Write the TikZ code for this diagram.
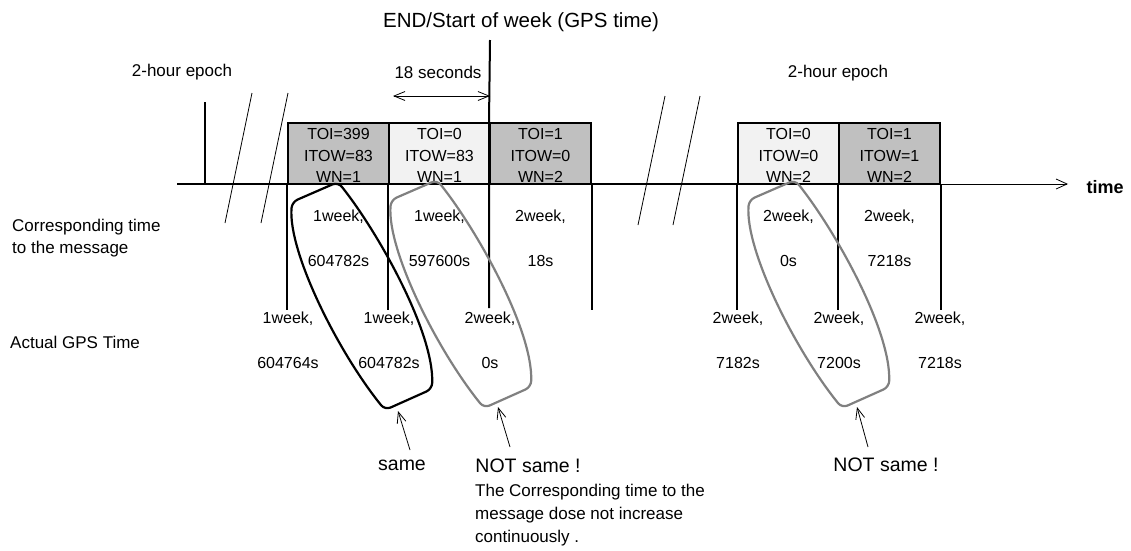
\documentclass[tikz,border=0pt]{standalone}
\usepackage{fontspec}
\setmainfont{Liberation Sans}
\usetikzlibrary{arrows.meta}
\definecolor{graybox}{HTML}{C0C0C0}
\definecolor{lightbox}{HTML}{F2F2F2}
\definecolor{loopgray}{HTML}{808080}
\tikzset{
  boxcell/.style={draw=black, line width=2pt, minimum width=101pt, minimum height=61pt, inner sep=0pt},
  boxtxt/.style={align=center, font=\fontsize{16}{21.5}\selectfont, inner sep=0pt},
  val/.style={font=\fontsize{16}{19}\selectfont, inner sep=0pt},
  lbl/.style={font=\fontsize{17}{22}\selectfont, inner sep=0pt},
  biglbl/.style={font=\fontsize{19.5}{23}\selectfont, inner sep=0pt},
  thickline/.style={line width=2pt},
  breakline/.style={line width=0.8pt},
  loopblk/.style={draw=black, line width=2.2pt, rounded corners=6pt, line join=round},
  loopgry/.style={draw=loopgray, line width=2.2pt, rounded corners=6pt, line join=round},
  ptr/.style={-{Straight Barb[length=11pt,width=9pt]}, line width=0.8pt},
  dblptr/.style={{Straight Barb[length=11pt,width=9pt]}-{Straight Barb[length=11pt,width=9pt]}, line width=0.8pt},
}
\begin{document}
\begin{tikzpicture}[x=1pt,y=-1pt]
\useasboundingbox (0,0) rectangle (1131,550);

% title and week line
\node[font=\fontsize{20.5}{24}\selectfont, inner sep=0pt] (title) at (521,22) {END/Start of week (GPS time)};
\coordinate (wktop) at (490,40);

% epoch labels
\node[lbl] (ep1) at (182,72) {2-hour epoch};
\node[lbl] (ep2) at (838,73) {2-hour epoch};
\node[lbl] (sec) at (438,72) {18 seconds};
\coordinate (secL) at (393,96);
\coordinate (secR) at (490,96);
\draw[dblptr] (secL) -- (secR);

% boxes
\node[boxcell, fill=graybox]  (b1) at (338.5,153.5) {};
\node[boxcell, fill=lightbox] (b2) at (439.5,153.5) {};
\node[boxcell, fill=graybox]  (b3) at (540.5,153.5) {};
\node[boxcell, fill=lightbox] (b4) at (788.5,153.5) {};
\node[boxcell, fill=graybox]  (b5) at (889.5,153.5) {};

\node[boxtxt] (t1) at (338.5,155.5) {TOI=399\\ITOW=83\\WN=1};
\node[boxtxt] (t2) at (439.5,155.5) {TOI=0\\ITOW=83\\WN=1};
\node[boxtxt] (t3) at (540.5,155.5) {TOI=1\\ITOW=0\\WN=2};
\node[boxtxt] (t4) at (788.5,155.5) {TOI=0\\ITOW=0\\WN=2};
\node[boxtxt] (t5) at (889.5,155.5) {TOI=1\\ITOW=1\\WN=2};

% time axis
\coordinate (axL) at (177,184);
\coordinate (axM) at (940,184);
\coordinate (axR) at (1068,184);
\draw[thickline] (axL) -- (axM);
\draw[-{Straight Barb[length=11pt,width=10pt]}, line width=0.8pt] (axM) -- (axR);
\node[font=\fontsize{18}{21}\selectfont\bfseries, inner sep=0pt] (timelbl) at (1105,187) {time};

% epoch tick
\coordinate (tickT) at (205,102);
\coordinate (tickB) at (205,184);
\draw[thickline] (tickT) -- (tickB);

% break marks
\coordinate (k1a) at (252,93); \coordinate (k1b) at (225,223);
\coordinate (k2a) at (288,93); \coordinate (k2b) at (261,223);
\coordinate (k3a) at (665,96); \coordinate (k3b) at (638,225);
\coordinate (k4a) at (700,96); \coordinate (k4b) at (673,225);
\draw[breakline] (k1a) -- (k1b);
\draw[breakline] (k2a) -- (k2b);
\draw[breakline] (k3a) -- (k3b);
\draw[breakline] (k4a) -- (k4b);

% vertical lines below the axis
\draw[thickline] (b1.south west) -- ++(0,125);
\draw[thickline] (b2.south west) -- ++(0,125);
\draw[thickline] (wktop) -- (b3.north west) -- ++(0,186);
\draw[thickline] (b3.south east) -- ++(0,125);
\draw[thickline] (b4.south west) -- ++(0,125);
\draw[thickline] (b5.south west) -- ++(0,125);
\draw[thickline] (b5.south east) -- ++(0,125);

% left labels
\node[lbl, anchor=west, align=left] (corr) at (12,238) {Corresponding time\\to the message};
\node[lbl, anchor=west] (actual) at (10,342) {Actual GPS Time};

% corresponding times
\node[val] (c1a) at (338.5,217) {1week,};
\node[val] (c1b) at (338.5,261) {604782s};
\node[val] (c2a) at (439.5,217) {1week,};
\node[val] (c2b) at (439.5,261) {597600s};
\node[val] (c3a) at (540.5,217) {2week,};
\node[val] (c3b) at (540.5,261) {18s};
\node[val] (c4a) at (788.5,217) {2week,};
\node[val] (c4b) at (788.5,261) {0s};
\node[val] (c5a) at (889.5,217) {2week,};
\node[val] (c5b) at (889.5,261) {7218s};

% actual GPS times
\node[val] (g1a) at (288,319) {1week,};
\node[val] (g1b) at (288,363) {604764s};
\node[val] (g2a) at (389,319) {1week,};
\node[val] (g2b) at (389,363) {604782s};
\node[val] (g3a) at (490,319) {2week,};
\node[val] (g3b) at (490,363) {0s};
\node[val] (g4a) at (738,319) {2week,};
\node[val] (g4b) at (738,363) {7182s};
\node[val] (g5a) at (839,319) {2week,};
\node[val] (g5b) at (839,363) {7200s};
\node[val] (g6a) at (940,319) {2week,};
\node[val] (g6b) at (940,363) {7218s};

% loops
\draw[loopblk, shift={(338,182)}] (-23,10) -- (-46,20) .. controls (-50,70) and (0,170) .. (47,228) -- (94,207) .. controls (96,150) and (40,50) .. (0,0) -- cycle;
\draw[loopgry, shift={(437,180)}] (-23,10) -- (-46,20) .. controls (-50,70) and (0,170) .. (47,228) -- (94,207) .. controls (96,150) and (40,50) .. (0,0) -- cycle;
\draw[loopgry, shift={(795,180)}] (-23,10) -- (-46,20) .. controls (-50,70) and (0,170) .. (47,228) -- (94,207) .. controls (96,150) and (40,50) .. (0,0) -- cycle;

% pointers and their labels
\node[biglbl] (same) at (402,465) {same};
\node[biglbl] (ns1) at (528,466) {NOT same !};
\node[biglbl] (ns2) at (886,465) {NOT same !};
\coordinate (p1s) at (410,450); \coordinate (p1e) at (398,411);
\coordinate (p2s) at (510,447); \coordinate (p2e) at (498,407);
\coordinate (p3s) at (868,447); \coordinate (p3e) at (857,407);
\draw[ptr] (p1s) -- (p1e);
\draw[ptr] (p2s) -- (p2e);
\draw[ptr] (p3s) -- (p3e);

\node[lbl, anchor=north west, align=left, font=\fontsize{17}{23}\selectfont] (note) at (475,484) {The Corresponding time to the\\message dose not increase\\continuously .};
\end{tikzpicture}
\end{document}
